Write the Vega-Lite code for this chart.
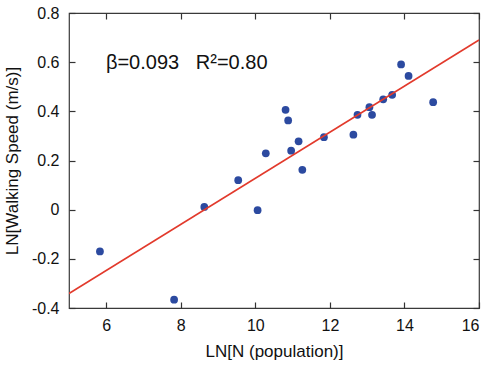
{
  "$schema": "https://vega.github.io/schema/vega-lite/v6.json",
  "width": 410,
  "height": 295,
  "autosize": {"type": "none"},
  "padding": {"left": 69, "top": 13, "right": 19, "bottom": 57},
  "background": "white",
  "config": {
    "view": {"stroke": "#3a3a3a", "strokeWidth": 1.2},
    "font": "Liberation Sans",
    "axis": {
      "grid": false,
      "domain": false,
      "labelFont": "Liberation Sans",
      "labelFontSize": 16,
      "labelColor": "#111111",
      "titleFont": "Liberation Sans",
      "titleFontSize": 17,
      "titleFontWeight": "normal",
      "titleColor": "#111111"
    }
  },
  "datasets": {
    "points": [
      {"lnN": 5.83, "lnV": -0.170},
      {"lnN": 7.82, "lnV": -0.366},
      {"lnN": 8.63, "lnV": 0.011},
      {"lnN": 9.54, "lnV": 0.120},
      {"lnN": 10.06, "lnV": -0.002},
      {"lnN": 10.28, "lnV": 0.229},
      {"lnN": 10.81, "lnV": 0.406},
      {"lnN": 10.88, "lnV": 0.363},
      {"lnN": 10.96, "lnV": 0.240},
      {"lnN": 11.16, "lnV": 0.278},
      {"lnN": 11.26, "lnV": 0.162},
      {"lnN": 11.84, "lnV": 0.295},
      {"lnN": 12.63, "lnV": 0.305},
      {"lnN": 12.74, "lnV": 0.386},
      {"lnN": 13.06, "lnV": 0.417},
      {"lnN": 13.13, "lnV": 0.386},
      {"lnN": 13.43, "lnV": 0.449},
      {"lnN": 13.67, "lnV": 0.467},
      {"lnN": 13.91, "lnV": 0.591},
      {"lnN": 14.11, "lnV": 0.544},
      {"lnN": 14.77, "lnV": 0.437}
    ],
    "fit": [
      {"lnN": 5, "lnV": -0.341},
      {"lnN": 16, "lnV": 0.690}
    ],
    "label": [
      {"lnN": 5.99, "lnV": 0.597, "text": "β=0.093\u00a0\u00a0\u00a0R²=0.80"}
    ]
  },
  "layer": [
    {
      "data": {"name": "fit"},
      "mark": {"type": "point", "opacity": 0},
      "encoding": {
        "x": {"field": "lnN", "type": "quantitative", "scale": {"domain": [5, 16], "nice": false, "zero": false}, "axis": {"orient": "top", "values": [6, 8, 10, 12, 14, 16], "labels": false, "title": null, "ticks": true, "tickSize": 6, "tickWidth": 1.2, "tickColor": "#333333", "offset": -6, "zindex": 2}},
        "y": {"field": "lnV", "type": "quantitative", "scale": {"domain": [-0.4, 0.8], "nice": false, "zero": false}, "axis": {"orient": "right", "values": [-0.4, -0.2, 0, 0.2, 0.4, 0.6, 0.8], "labels": false, "title": null, "ticks": true, "tickSize": 6, "tickWidth": 1.2, "tickColor": "#333333", "offset": -6, "zindex": 2}}
      }
    },
    {
      "data": {"name": "points"},
      "mark": {"type": "point", "filled": true, "opacity": 1, "size": 60, "color": "#2c4aa0"},
      "encoding": {
        "x": {
          "field": "lnN", "type": "quantitative",
          "axis": {"orient": "bottom", "values": [6, 8, 10, 12, 14, 16], "title": "LN[N (population)]", "labelPadding": 9, "titlePadding": 10, "ticks": true, "tickSize": 6, "tickWidth": 1.2, "tickColor": "#333333", "offset": -6, "zindex": 2}
        },
        "y": {
          "field": "lnV", "type": "quantitative",
          "axis": {"orient": "left", "values": [-0.4, -0.2, 0, 0.2, 0.4, 0.6, 0.8], "title": "LN[Walking Speed (m/s)]", "labelPadding": 10, "titlePadding": 10, "ticks": true, "tickSize": 6, "tickWidth": 1.2, "tickColor": "#333333", "offset": -6, "zindex": 2, "labelExpr": "datum.value == 0 ? '0' : (datum.value < 0 ? '-' + format(-datum.value, '.1f') : format(datum.value, '.1f'))"}
        }
      }
    },
    {
      "data": {"name": "fit"},
      "mark": {"type": "line", "color": "#e23a2c", "strokeWidth": 1.6, "clip": true},
      "encoding": {
        "x": {"field": "lnN", "type": "quantitative", "axis": null},
        "y": {"field": "lnV", "type": "quantitative", "axis": null}
      }
    },
    {
      "data": {"name": "label"},
      "mark": {"type": "text", "align": "left", "baseline": "middle", "fontSize": 20, "font": "Liberation Sans", "color": "#111111"},
      "encoding": {
        "x": {"field": "lnN", "type": "quantitative", "axis": null},
        "y": {"field": "lnV", "type": "quantitative", "axis": null},
        "text": {"field": "text"}
      }
    }
  ],
  "resolve": {"axis": {"x": "independent", "y": "independent"}}
}
